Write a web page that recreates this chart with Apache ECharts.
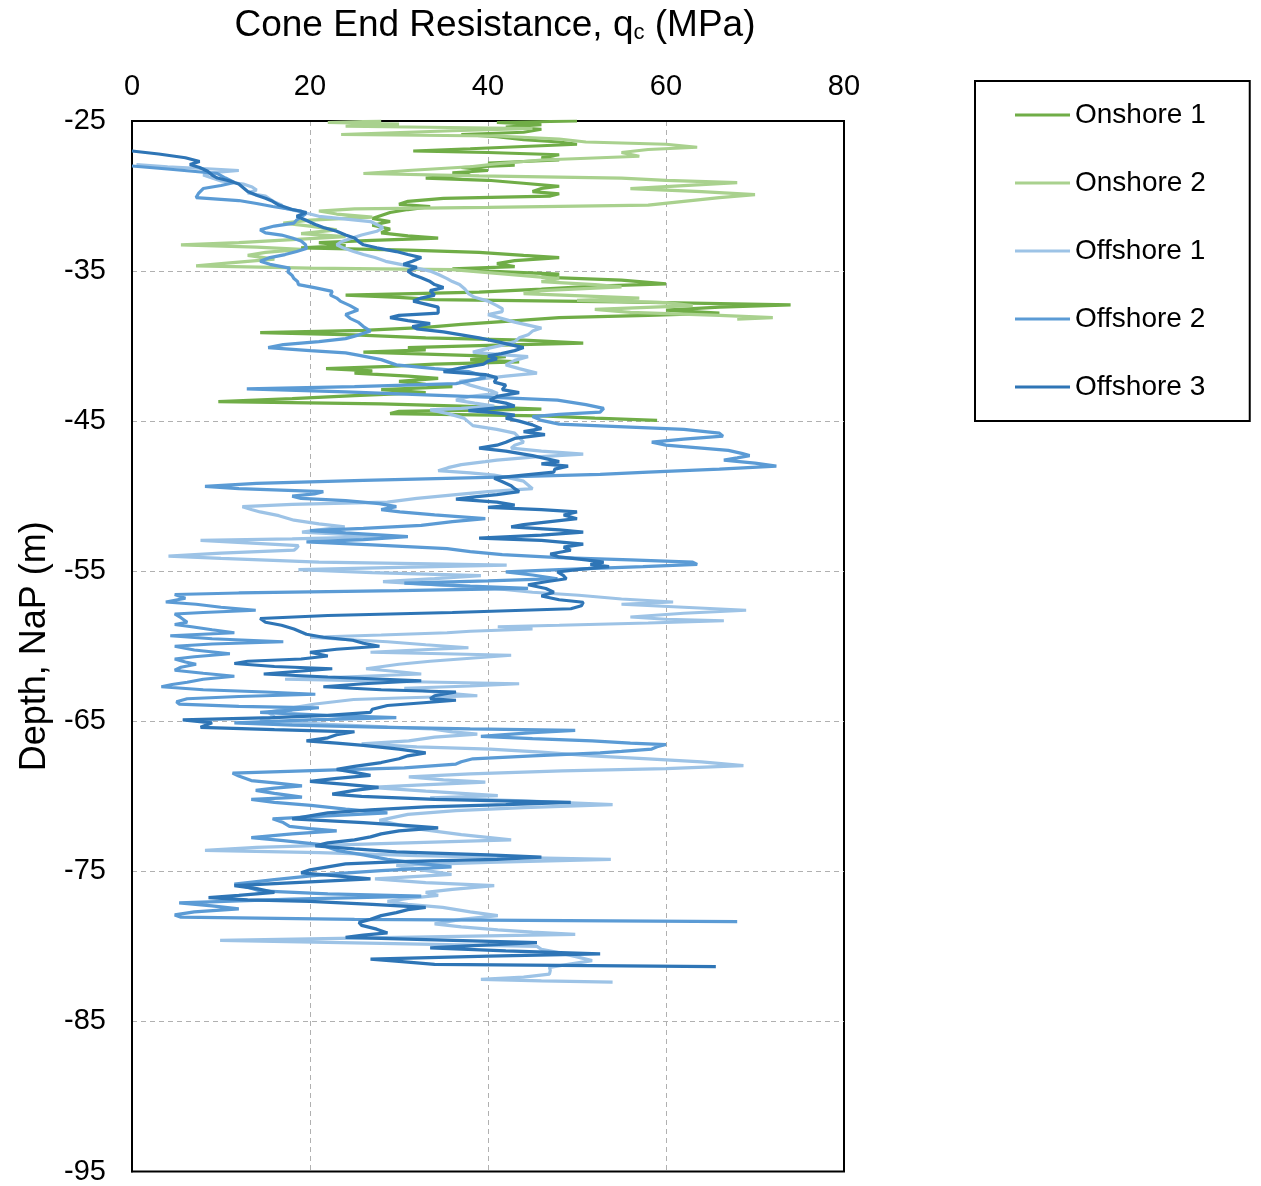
<!DOCTYPE html>
<html>
<head>
<meta charset="utf-8">
<script src="https://cdn.jsdelivr.net/npm/echarts@6/dist/echarts.min.js"></script>
<style>
  html, body { margin: 0; padding: 0; background: #fff; }
  #chart { width: 1261px; height: 1186px; }
</style>
</head>
<body>
<div id="chart"></div>
<script>
// Cone end resistance (MPa) versus depth (m NaP) for five CPT soundings

const seriesNames = ['Onshore 1', 'Onshore 2', 'Offshore 1', 'Offshore 2', 'Offshore 3'];
const seriesColors = ['#70AD47', '#A9D18E', '#9DC3E6', '#5B9BD5', '#2E75B6'];

const onshore1Depth = [-25.0,-25.1,-25.25,-25.4,-25.55,-25.75,-25.9,-26.05,-26.25,-26.4,-26.55,-26.7,-26.85,-27.0,-27.1,-27.25,-27.45,-27.6,-27.8,-27.95,-28.1,-28.3,-28.45,-28.6,-28.8,-28.95,-29.15,-29.35,-29.5,-29.7,-29.85,-30.0,-30.15,-30.35,-30.55,-30.7,-30.9,-31.1,-31.3,-31.5,-31.7,-31.95,-32.2,-32.45,-32.65,-32.8,-32.95,-33.1,-33.3,-33.45,-33.6,-33.75,-33.95,-34.1,-34.3,-34.5,-34.7,-34.85,-35.0,-35.2,-35.4,-35.6,-35.85,-36.0,-36.2,-36.4,-36.6,-36.75,-36.9,-37.05,-37.25,-37.4,-37.6,-37.8,-37.95,-38.1,-38.35,-38.55,-38.75,-38.95,-39.1,-39.25,-39.45,-39.6,-39.8,-39.95,-40.1,-40.25,-40.4,-40.55,-40.7,-40.9,-41.05,-41.2,-41.35,-41.5,-41.65,-41.8,-42.0,-42.15,-42.35,-42.55,-42.7,-42.9,-43.1,-43.3,-43.5,-43.7,-43.85,-44.0,-44.2,-44.35,-44.5,-44.65,-44.8,-44.95];
const onshore1Qc = [50,41,46,42,46,44,37,41,44,48,50,44,38,31.6,40,48,46,48,40,43,37,40,36,38,33,40,44,48,46,45,48,47,35,31,30,33.5,31,29,28,27,29,27,29,28,31,34.4,27,21,24,19,31,39,44,48,43,41,43,36,40,48,46,55,60,52,46,39,24,30,34,55,74,66,60,66,58,48,42,37,33,26,14.4,25,33,44,50.7,40,31,33,26,34,42,38,43.5,34,29,21.8,27,25,31,34.4,30,33,36,28,33,25,18,9.7,28,37,46,30,29,46,52,59];

const onshore2Depth = [-25.0,-25.1,-25.2,-25.35,-25.5,-25.65,-25.9,-26.0,-26.2,-26.4,-26.55,-26.75,-26.9,-27.1,-27.35,-27.6,-27.85,-28.05,-28.3,-28.5,-28.65,-28.8,-28.95,-29.1,-29.3,-29.5,-29.7,-29.9,-30.1,-30.35,-30.6,-30.75,-30.85,-31.0,-31.2,-31.4,-31.6,-31.8,-32.0,-32.25,-32.5,-32.7,-32.9,-33.1,-33.25,-33.4,-33.55,-33.75,-33.95,-34.2,-34.45,-34.65,-34.8,-34.9,-35.1,-35.3,-35.5,-35.7,-35.9,-36.05,-36.3,-36.5,-36.8,-36.95,-37.1,-37.3,-37.55,-37.75,-37.95,-38.1,-38.2];
const onshore2Qc = [28,22,30,24,45,36,23.5,41,48,51,60,63.5,58,55,57,46,41,38,31,26,39,55,60,68,62,56,64,70,66,62,58,40,25,21,23,27,20,17,20,23,19,24,18,12,5.5,14,19,15,13,16,11,7.2,20,36,40,44,48,46,52,55,46,44,57,50,60,63,52,56,66,72,68];

const offshore1Depth = [-27.9,-28.05,-28.2,-28.3,-28.45,-28.6,-28.8,-29.0,-29.2,-29.4,-29.6,-29.8,-30.0,-30.2,-30.4,-30.6,-30.8,-31.0,-31.2,-31.35,-31.5,-31.7,-31.9,-32.1,-32.35,-32.6,-32.85,-33.05,-33.25,-33.45,-33.7,-33.9,-34.1,-34.35,-34.6,-34.8,-35.0,-35.25,-35.5,-35.7,-35.9,-36.2,-36.5,-36.75,-37.0,-37.3,-37.5,-37.7,-37.9,-38.15,-38.4,-38.6,-38.8,-39.0,-39.25,-39.45,-39.7,-39.95,-40.15,-40.4,-40.55,-40.7,-40.95,-41.25,-41.5,-41.8,-42.0,-42.2,-42.35,-42.6,-42.8,-43.0,-43.15,-43.35,-43.6,-43.8,-44.0,-44.15,-44.25,-44.5,-44.8,-45.05,-45.3,-45.55,-45.8,-46.1,-46.4,-46.6,-46.8,-47.0,-47.2,-47.4,-47.6,-47.7,-47.9,-48.1,-48.3,-48.45,-48.6,-48.8,-49.0,-49.25,-49.5,-49.7,-49.9,-50.15,-50.4,-50.55,-50.7,-50.9,-51.05,-51.3,-51.6,-51.85,-52.05,-52.25,-52.4,-52.55,-52.7,-52.85,-52.95,-53.15,-53.3,-53.45,-53.6,-53.8,-54.0,-54.15,-54.4,-54.5,-54.6,-54.75,-54.9,-55.1,-55.3,-55.5,-55.7,-55.9,-56.15,-56.4,-56.6,-56.85,-57.05,-57.2,-57.4,-57.6,-57.8,-58.05,-58.2,-58.3,-58.45,-58.6,-58.7,-58.85,-59.0,-59.1,-59.25,-59.4,-59.55,-59.7,-59.9,-60.1,-60.25,-60.4,-60.5,-60.6,-60.8,-61.0,-61.2,-61.5,-61.7,-61.85,-62.0,-62.2,-62.35,-62.5,-62.65,-62.8,-63.05,-63.3,-63.45,-63.55,-63.85,-64.1,-64.4,-64.7,-64.95,-65.2,-65.5,-65.7,-65.85,-66.05,-66.3,-66.5,-66.7,-66.85,-67.05,-67.3,-67.5,-67.7,-67.95,-68.15,-68.3,-68.5,-68.7,-68.9,-69.05,-69.25,-69.4,-69.65,-69.95,-70.1,-70.3,-70.55,-70.75,-70.95,-71.2,-71.6,-71.9,-72.2,-72.55,-72.9,-73.15,-73.4,-73.6,-73.75,-73.95,-74.2,-74.4,-74.6,-74.85,-75.2,-75.5,-75.75,-75.95,-76.2,-76.4,-76.6,-76.8,-77.0,-77.2,-77.4,-77.7,-77.95,-78.2,-78.5,-78.7,-78.9,-79.05,-79.2,-79.4,-79.6,-79.8,-80.0,-80.2,-80.4,-80.7,-80.95,-81.2,-81.4,-81.6,-81.85,-82.05,-82.2,-82.3,-82.38];
const offshore1Qc = [0.5,4,9,12,9,8,9,10,12.5,13.5,14,13,15,15.5,16,16.8,17,18.5,20,21,23.5,26.8,27.5,28.2,27.5,25.8,24.5,23.5,23,23.7,24.9,26,27.3,28.5,30.6,32,33.5,34.5,35.4,36,36.8,37.4,37.8,38.5,40,41,41.6,41.6,40,41.5,43,44.5,46,45,44.5,43.5,43,41.5,40,38.3,41,44.5,43,42,43.5,45.5,42,39,36.8,38,39.2,40.5,41.1,38,36.4,38.5,40.7,37,33.5,35.5,37.3,37.8,38.3,41,43,43.5,44,43,42.6,46,50.7,45,41,39.7,37,35.5,34.4,38,40.7,42.5,44,44.5,45,40,36.4,32,28.7,18,12.4,13.5,14.4,16.5,18.2,21,23.9,21,19.1,24,28.7,18,7.7,14,18.7,18.5,18.2,10,4.1,10,21,32,42.1,30,18.7,27,39.2,34,28.2,34,40.7,45,50.2,55,60.8,55,62,69,62,56,60,66.5,58,48,41.1,45,38,35.4,28,20.1,24,28.7,33,37.8,32,26.8,35,42.6,38,33.5,30,26.3,30,32.5,26,17.2,30,43.5,38,30.6,34,38.8,30,24.9,20.6,18,15.3,16,14.4,22,33.5,36,38.8,34,31.1,25.8,32,40.2,46,51.7,58,64,68.7,60,48.3,38,31.1,35,39.7,32,26.8,33,41.1,33.5,44,54,44,36.4,31,27.8,30,32.5,37,42.6,28,14,8.2,21,32,53.8,40,29.7,32,35.9,27.3,33,40.7,36,33,34.4,31,28.7,31,34.9,38,41.1,37,34,37,41.1,45,49.8,30,9.9,28,45.5,46,47.8,50,51.7,49,46.9,47,46.9,44,39.2,46,54];

const offshore2Depth = [-28.0,-28.2,-28.5,-28.8,-29.1,-29.3,-29.5,-29.8,-30.1,-30.3,-30.5,-30.7,-31.0,-31.2,-31.4,-31.6,-31.8,-32.0,-32.25,-32.45,-32.6,-32.8,-33.0,-33.25,-33.5,-33.7,-33.9,-34.1,-34.35,-34.55,-34.8,-35.05,-35.3,-35.5,-35.7,-35.9,-36.1,-36.35,-36.6,-36.8,-37.0,-37.3,-37.6,-37.9,-38.15,-38.4,-38.7,-39.0,-39.25,-39.5,-39.7,-39.9,-40.1,-40.3,-40.45,-40.6,-40.9,-41.25,-41.5,-41.7,-41.9,-42.1,-42.3,-42.5,-42.7,-42.85,-43.05,-43.25,-43.45,-43.6,-43.9,-44.15,-44.4,-44.55,-44.7,-44.95,-45.2,-45.4,-45.55,-45.8,-46.0,-46.2,-46.4,-46.6,-46.8,-46.95,-47.15,-47.3,-47.45,-47.6,-47.8,-48.0,-48.2,-48.4,-48.55,-48.75,-48.95,-49.15,-49.35,-49.5,-49.7,-49.85,-50.0,-50.15,-50.3,-50.5,-50.7,-50.9,-51.05,-51.25,-51.5,-51.7,-51.95,-52.15,-52.3,-52.45,-52.7,-52.9,-53.05,-53.25,-53.5,-53.7,-53.9,-54.1,-54.25,-54.4,-54.55,-54.7,-54.9,-55.05,-55.25,-55.5,-55.65,-55.8,-56.0,-56.15,-56.3,-56.45,-56.55,-56.8,-57.05,-57.2,-57.4,-57.6,-57.75,-57.85,-58.1,-58.4,-58.55,-58.7,-58.9,-59.1,-59.3,-59.5,-59.7,-59.85,-60.0,-60.25,-60.5,-60.7,-60.85,-61.05,-61.2,-61.4,-61.6,-61.8,-62.0,-62.2,-62.4,-62.55,-62.7,-62.9,-63.05,-63.2,-63.35,-63.5,-63.7,-63.85,-64.0,-64.1,-64.25,-64.4,-64.6,-64.75,-64.9,-65.1,-65.25,-65.4,-65.5,-65.6,-65.75,-66.0,-66.15,-66.3,-66.45,-66.55,-66.7,-66.85,-67.0,-67.1,-67.3,-67.5,-67.7,-67.85,-68.1,-68.25,-68.45,-68.65,-68.95,-69.1,-69.3,-69.45,-69.6,-69.8,-70.05,-70.2,-70.4,-70.6,-70.85,-71.1,-71.3,-71.5,-71.75,-72.0,-72.15,-72.3,-72.5,-72.75,-72.95,-73.2,-73.4,-73.6,-73.9,-74.2,-74.45,-74.7,-74.95,-75.15,-75.3,-75.55,-75.85,-76.05,-76.3,-76.5,-76.65,-76.85,-77.1,-77.3,-77.5,-77.7,-77.9,-78.05,-78.2,-78.35];
const offshore2Qc = [0,4,9.6,10.5,11.5,10,8,7.5,7.2,12,14,15.8,19,19.5,19,18.5,18.2,16,14.4,15,16.8,18,19,19.5,19.6,18.5,17.2,15.5,14.4,15.5,17.7,17.5,18,18.2,18.6,18.7,20.5,22.5,22.3,23,23.4,24.5,25.4,24,24.5,25.4,26,26.8,25.5,24,21,17,15.3,20,24,25.4,28,29.7,34,37.8,39,39.7,38,36.4,25,12.9,24,33,42,47.8,51,53,52.6,48,45,46,48,56,62,66,66.4,62,58.4,60,64,67,68.5,69.4,68,66.5,70,72.4,66,58,52.6,40,26,14,8.2,12,21.5,20.5,18,19,24,27.8,29.7,28,30.1,34,39.7,36,32.5,26,20,24,31,26,19.6,27,35.4,38,41.6,48,56,63,63.5,57.4,48,42,45,47.8,40,30.6,38,44.5,30,12,4.8,6,3.8,7.2,10,13.9,8,4.8,5.5,6.2,4.8,6.7,9,11.5,4.3,9,17,9,4.8,7,11,7,4.8,6,7.2,5.5,4.8,8,11.5,8,6.2,4.5,3.3,8,15,20.6,12,6.2,5,5.3,12,21,18,14.4,22,29.7,20,11.5,18,28.7,38,49.8,45,39.2,45,51.7,56,60,59,58.4,55,52.6,45,38.3,37,36.4,30.6,22,11.3,12,13.4,16,19.1,16,13.9,16,19.1,13.4,16,20.1,24,28.7,22,15.8,17,17.7,20,23,18,13.4,17,21,22,23,26,28.7,32,35.9,28,23,20.1,16,11.5,13,14.4,22,32.5,18,5.3,9,12,7,4.8,5.5,25,68];

const offshore3Depth = [-27.0,-27.2,-27.45,-27.7,-27.9,-28.1,-28.35,-28.6,-28.8,-29.0,-29.2,-29.45,-29.7,-29.95,-30.15,-30.35,-30.6,-30.9,-31.1,-31.35,-31.6,-31.9,-32.1,-32.35,-32.6,-32.8,-33.05,-33.25,-33.45,-33.7,-33.9,-34.1,-34.35,-34.55,-34.75,-35.0,-35.25,-35.45,-35.7,-35.9,-36.1,-36.3,-36.6,-36.8,-37.0,-37.2,-37.4,-37.6,-37.8,-37.95,-38.1,-38.3,-38.5,-38.7,-38.85,-39.05,-39.25,-39.45,-39.7,-39.9,-40.1,-40.3,-40.5,-40.65,-40.85,-41.0,-41.2,-41.45,-41.7,-41.9,-42.1,-42.4,-42.6,-42.9,-43.1,-43.35,-43.6,-43.8,-44.0,-44.3,-44.45,-44.6,-44.8,-45.0,-45.25,-45.5,-45.7,-45.9,-46.15,-46.4,-46.6,-46.8,-47.0,-47.3,-47.5,-47.7,-47.85,-48.0,-48.2,-48.4,-48.6,-48.8,-49.0,-49.3,-49.5,-49.7,-49.9,-50.05,-50.2,-50.4,-50.6,-50.75,-50.9,-51.05,-51.25,-51.5,-51.7,-51.9,-52.05,-52.25,-52.4,-52.6,-52.8,-52.95,-53.2,-53.4,-53.6,-53.85,-54.05,-54.25,-54.4,-54.55,-54.7,-54.9,-55.05,-55.3,-55.5,-55.7,-55.9,-56.15,-56.4,-56.65,-56.9,-57.07,-57.3,-57.5,-57.75,-57.95,-58.15,-58.4,-58.6,-58.85,-59.05,-59.2,-59.4,-59.6,-59.8,-60.0,-60.2,-60.4,-60.65,-60.85,-61.0,-61.15,-61.35,-61.5,-61.7,-61.85,-62.05,-62.3,-62.5,-62.7,-62.9,-63.05,-63.3,-63.5,-63.6,-63.8,-63.95,-64.2,-64.4,-64.6,-64.75,-64.9,-65.1,-65.4,-65.55,-65.7,-65.9,-66.1,-66.3,-66.45,-66.6,-66.85,-67.1,-67.3,-67.5,-67.75,-68.0,-68.2,-68.4,-68.6,-68.8,-69.0,-69.2,-69.4,-69.6,-69.85,-70.0,-70.2,-70.4,-70.55,-70.7,-70.9,-71.1,-71.3,-71.5,-71.75,-71.95,-72.1,-72.3,-72.5,-72.7,-72.9,-73.1,-73.3,-73.5,-73.7,-73.9,-74.05,-74.2,-74.35,-74.5,-74.7,-74.9,-75.1,-75.3,-75.5,-75.7,-75.95,-76.15,-76.4,-76.6,-76.75,-76.9,-77.0,-77.2,-77.4,-77.55,-77.75,-77.95,-78.2,-78.4,-78.6,-78.85,-79.1,-79.25,-79.4,-79.55,-79.75,-79.9,-80.1,-80.3,-80.5,-80.65,-80.85,-81.0,-81.2,-81.35];
const offshore3Qc = [0,3,6,7.6,6.5,7.6,8.5,9,9.6,11,12,12.5,13,14,15,15.8,16.5,18,19.6,18.5,19.5,20.6,21.5,23,24,25,25.5,26,27.5,29.7,31,32.5,31.5,30.5,32,31,31.6,32.5,33.5,34,35,33.5,34,32.5,31.6,33,34.4,34.4,34.4,30,29,31,33.5,31.5,32,35,37,39,41,42.5,44,43,41.5,40,41,40,39.5,37,35,39.7,41,40.7,42,41.6,43.5,41,40.2,42,43,37.8,41,43,42,43.5,45,46,44,46.4,43,42,41,39,42,45,46.5,48,46,49,47.5,47.4,44,40.7,41.5,42.6,43,43.5,41,38.5,36.4,41,43,40,46,50,48.5,50,47,44,42.6,48,50.7,46,39,46,50.7,48.5,49.3,47,48,51,53,51.5,53.6,50,47.8,48.5,48.8,46.5,44.5,46.5,47.4,46,48,50.7,50.5,49.3,36,22,14.4,15,16.8,18.2,19,19.6,21.5,24.8,26,27.8,23,20,22,19,13,11.5,16,22.5,18,14.8,22,32.5,26,21.5,28,36.4,34,33.5,36.4,32,28.7,27,26.8,22,15.8,5.7,9,7.7,16,25,23,22,19.6,23,26,30,33,31,30,28,25,23,25,26.8,23,20,24,27.7,25,22.5,25.8,34,49.3,42,33,26.8,22,20,18,26,31,34.4,30,28,26.8,25,22,20.6,25,29.7,40,46,41,30,24,22,20,19,23,26.8,20,11.5,14,16,12,8.6,13,20,27,33,31,29.7,28,26.8,25.5,25.8,27.5,28.7,26,24,33,45.5,40,33.5,42,52.6,40,26.8,30,34,65.6];

const xTicks = { min: 0, max: 80, step: 20 };
const yTicks = { min: -95, max: -25, step: 10 };

const depthArrays = [onshore1Depth, onshore2Depth, offshore1Depth, offshore2Depth, offshore3Depth];
const qcArrays = [onshore1Qc, onshore2Qc, offshore1Qc, offshore2Qc, offshore3Qc];

const FONT = '"Liberation Sans", Arial, sans-serif';

const series = seriesNames.map((name, i) => ({
  name: name,
  type: 'line',
  data: depthArrays[i].map((d, j) => [qcArrays[i][j], d]),
  showSymbol: false,
  symbol: 'none',
  smooth: false,
  animation: false,
  lineStyle: { color: seriesColors[i], width: 3.2 },
  itemStyle: { color: seriesColors[i] }
}));

const dashed = { color: '#b0b0b0', type: [5, 4], width: 1 };

const chart = echarts.init(document.getElementById('chart'), null, { renderer: 'canvas' });
chart.setOption({
  backgroundColor: '#ffffff',
  animation: false,
  title: {
    text: '{a|Cone End Resistance, q}{s|c}{a| (MPa)}',
    left: 490,
    top: 2,
    textAlign: 'center',
    textStyle: {
      fontWeight: 'normal',
      rich: {
        a: { fontFamily: FONT, fontSize: 37, fontWeight: 'normal', color: '#000' },
        s: { fontFamily: FONT, fontSize: 22, fontWeight: 'normal', color: '#000', verticalAlign: 'bottom', padding: [14, 0, 0, 0] }
      }
    }
  },
  legend: {
    orient: 'vertical',
    left: 975,
    top: 81,
    data: seriesNames,
    icon: 'rect',
    itemWidth: 55,
    itemHeight: 3,
    itemGap: 40,
    padding: [20, 44, 20, 40],
    borderColor: '#000',
    borderWidth: 2,
    backgroundColor: '#fff',
    textStyle: { fontFamily: FONT, fontSize: 28, color: '#000' }
  },
  grid: {
    left: 132,
    right: 417,
    top: 121,
    bottom: 13,
    show: true,
    borderColor: '#000',
    borderWidth: 2,
    backgroundColor: 'transparent'
  },
  xAxis: [{
    type: 'value',
    position: 'top',
    min: xTicks.min,
    max: xTicks.max,
    interval: xTicks.step,
    axisLine: { show: true, lineStyle: { color: '#000', width: 2 } },
    axisTick: { show: false },
    axisLabel: { fontFamily: FONT, fontSize: 29, color: '#000', margin: 20 },
    splitLine: { show: true, showMinLine: false, showMaxLine: false, lineStyle: dashed }
  }],
  yAxis: [{
    type: 'value',
    min: yTicks.min,
    max: yTicks.max,
    interval: yTicks.step,
    name: 'Depth, NaP (m)',
    nameLocation: 'middle',
    nameRotate: 90,
    nameGap: 78,
    nameTextStyle: { fontFamily: FONT, fontSize: 36, color: '#000' },
    axisLine: { show: true, lineStyle: { color: '#000', width: 2 } },
    axisTick: { show: false },
    axisLabel: { fontFamily: FONT, fontSize: 29, color: '#000', margin: 26 },
    splitLine: { show: true, showMinLine: false, showMaxLine: false, lineStyle: dashed }
  }],
  series: series
});
</script>
</body>
</html>
